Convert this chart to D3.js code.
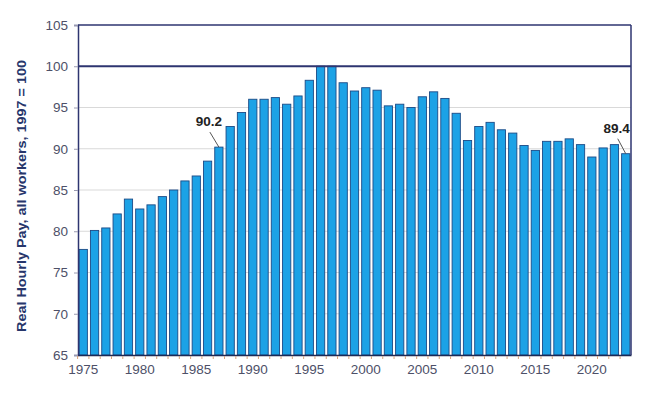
<!DOCTYPE html>
<html>
<head>
<meta charset="utf-8">
<script src="https://cdn.jsdelivr.net/npm/d3@7"></script>
<style>
  body { margin: 0; background: #fff; }
  svg text { font-family: "Liberation Sans", Arial, sans-serif; }
</style>
</head>
<body>
<div id="chart"></div>
<script>
// data
var years = d3.range(1975, 2024);
var pay = [
  77.8, 80.1, 80.4, 82.1, 83.9, 82.7, 83.2, 84.2, 85.0, 86.1,
  86.7, 88.5, 90.2, 92.7, 94.4, 96.0, 96.0, 96.2, 95.4, 96.4,
  98.3, 100.0, 100.0, 98.0, 97.0, 97.4, 97.1, 95.2, 95.4, 95.0,
  96.3, 96.9, 96.1, 94.3, 91.0, 92.7, 93.2, 92.3, 91.9, 90.4,
  89.8, 90.9, 90.9, 91.2, 90.5, 89.0, 90.1, 90.5, 89.4
];
var yTicks = [65, 70, 75, 80, 85, 90, 95, 100, 105];
var xLabelYears = [1975, 1980, 1985, 1990, 1995, 2000, 2005, 2010, 2015, 2020];
var callouts = [
  {year: 1987, text: "90.2", dx: -10, dy: -21},
  {year: 2023, text: "89.4", dx: -9, dy: -21}
];

var data = years.map(function (y, i) { return {year: y, value: pay[i]}; });

var svgWidth = 650, svgHeight = 398;
var margin = {top: 25, right: 19, bottom: 43, left: 78};
var width = svgWidth - margin.left - margin.right;
var height = svgHeight - margin.top - margin.bottom;

var svg = d3.select("#chart")
    .append("svg")
    .attr("width", svgWidth)
    .attr("height", svgHeight);

var chartGroup = svg.append("g")
    .attr("transform", `translate(${margin.left}, ${margin.top})`);

var xScale = d3.scaleBand()
    .domain(years)
    .range([0, width])
    .paddingInner(0.27)
    .paddingOuter(0.1);

var yScale = d3.scaleLinear()
    .domain([65, 105])
    .range([height, 0]);

// gridlines
chartGroup.append("g")
    .selectAll("line")
    .data(yTicks.filter(function (t) { return t > 65 && t < 100; }))
    .enter()
    .append("line")
    .attr("x1", 0)
    .attr("x2", width)
    .attr("y1", d => yScale(d))
    .attr("y2", d => yScale(d))
    .attr("stroke", "#d9d9d9")
    .attr("stroke-width", 1);

// bars
chartGroup.selectAll("rect.bar")
    .data(data)
    .enter()
    .append("rect")
    .attr("class", "bar")
    .attr("x", d => xScale(d.year))
    .attr("y", d => yScale(d.value))
    .attr("width", xScale.bandwidth())
    .attr("height", d => height - yScale(d.value))
    .attr("fill", "#1ca2e6")
    .attr("stroke", "#1b4a86")
    .attr("stroke-width", 0.9);

// frame: top + right
chartGroup.append("line")
    .attr("x1", 0).attr("x2", width)
    .attr("y1", 0).attr("y2", 0)
    .attr("stroke", "#2e3570").attr("stroke-width", 1.5);
chartGroup.append("line")
    .attr("x1", width).attr("x2", width)
    .attr("y1", 0).attr("y2", height)
    .attr("stroke", "#2e3570").attr("stroke-width", 1.5);

// 100 reference line
chartGroup.append("line")
    .attr("x1", 0).attr("x2", width)
    .attr("y1", yScale(100)).attr("y2", yScale(100))
    .attr("stroke", "#2e3570").attr("stroke-width", 2);

// y axis
var leftAxis = d3.axisLeft(yScale)
    .tickValues(yTicks)
    .tickSize(4)
    .tickPadding(6);

var yAxisG = chartGroup.append("g").call(leftAxis);
yAxisG.select(".domain").attr("stroke", "#2e3570").attr("stroke-width", 1.5);
yAxisG.selectAll(".tick line").attr("stroke", "#9a9ab0");
yAxisG.selectAll("text")
    .style("font-size", "13.5px")
    .attr("fill", "#4d5068");

// x axis
var bottomAxis = d3.axisBottom(xScale)
    .tickValues(xLabelYears)
    .tickSize(0)
    .tickPadding(9);

var xAxisG = chartGroup.append("g")
    .attr("transform", `translate(0, ${height})`)
    .call(bottomAxis);
xAxisG.select(".domain").attr("stroke", "#1d2a55").attr("stroke-width", 1.5);
xAxisG.selectAll("text")
    .style("font-size", "13.5px")
    .attr("fill", "#4d5068");

// small ticks between bars
var step = xScale.step();
chartGroup.append("g")
    .selectAll("line")
    .data(years)
    .enter()
    .append("line")
    .attr("x1", d => xScale(d) - (step - xScale.bandwidth()) / 2)
    .attr("x2", d => xScale(d) - (step - xScale.bandwidth()) / 2)
    .attr("y1", height + 1)
    .attr("y2", height + 4)
    .attr("stroke", "#d9a27a")
    .attr("stroke-width", 1);

// callouts
callouts.forEach(function (c) {
    var v = pay[years.indexOf(c.year)];
    var bx = xScale(c.year) + xScale.bandwidth() / 2;
    var by = yScale(v);
    chartGroup.append("line")
        .attr("x1", bx + c.dx + 1)
        .attr("y1", by + c.dy + 6)
        .attr("x2", bx)
        .attr("y2", by)
        .attr("stroke", "#555")
        .attr("stroke-width", 1);
    chartGroup.append("text")
        .attr("x", bx + c.dx)
        .attr("y", by + c.dy)
        .attr("text-anchor", "middle")
        .style("font-size", "13.5px")
        .style("font-weight", "bold")
        .attr("fill", "#222")
        .text(c.text);
});

// y axis title
svg.append("text")
    .attr("transform", "translate(26, 196) rotate(-90)")
    .attr("text-anchor", "middle")
    .attr("textLength", 272)
    .attr("lengthAdjust", "spacingAndGlyphs")
    .style("font-size", "13px")
    .style("font-weight", "bold")
    .attr("fill", "#27366b")
    .text("Real Hourly Pay, all workers, 1997 = 100");
</script>
</body>
</html>
